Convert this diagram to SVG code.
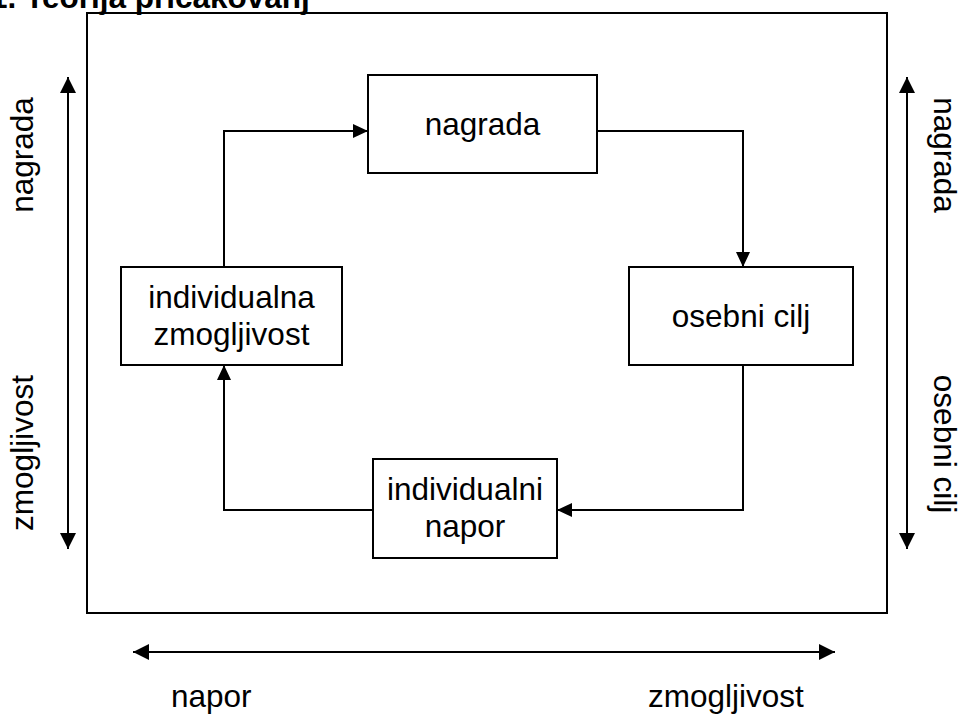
<svg xmlns="http://www.w3.org/2000/svg" width="966" height="715" viewBox="0 0 966 715">
  <style>
    .box { fill: #ffffff; stroke: #000000; stroke-width: 2; }
    .frame { fill: none; stroke: #000000; stroke-width: 2; }
    .link { fill: none; stroke: #000000; stroke-width: 2; marker-end: url(#head); }
    .axis { fill: none; stroke: #000000; stroke-width: 2; marker-start: url(#tip); marker-end: url(#tip); }
    .label { font-family: "Liberation Sans", Arial, sans-serif; font-size: 31.5px; fill: #000000; }
    .title { font-family: "Liberation Sans", Arial, sans-serif; font-size: 31.5px; font-weight: bold; fill: #000000; }
  </style>
  <defs>
    <marker id="head" markerUnits="userSpaceOnUse" markerWidth="16" markerHeight="16" refX="15" refY="7.5" orient="auto">
      <path d="M0,0.5 L15,7.5 L0,14.5 z" fill="#000000"/>
    </marker>
    <marker id="tip" markerUnits="userSpaceOnUse" markerWidth="17" markerHeight="17" refX="16" refY="8" orient="auto-start-reverse">
      <path d="M0,0 L16,8 L0,16 z" fill="#000000"/>
    </marker>
  </defs>

  <rect width="966" height="715" fill="#ffffff"/>

  <!-- heading, partly above the top edge -->
  <text class="title" x="-10" y="8">1. Teorija pričakovanj</text>

  <!-- outer frame -->
  <rect class="frame" x="87" y="13" width="800" height="600"/>

  <!-- axis arrows with their end labels -->
  <g id="axis-left">
    <line class="axis" x1="68" y1="77" x2="68" y2="549"/>
    <text class="label" text-anchor="middle" transform="translate(33,155) rotate(-90)">nagrada</text>
    <text class="label" text-anchor="middle" transform="translate(33,453) rotate(-90)">zmogljivost</text>
  </g>
  <g id="axis-right">
    <line class="axis" x1="907" y1="77" x2="907" y2="549"/>
    <text class="label" text-anchor="middle" transform="translate(934,155) rotate(90)">nagrada</text>
    <text class="label" text-anchor="middle" transform="translate(934,444) rotate(90)">osebni cilj</text>
  </g>
  <g id="axis-bottom">
    <line class="axis" x1="133" y1="652" x2="835" y2="652"/>
    <text class="label" x="171" y="707">napor</text>
    <text class="label" x="648" y="707">zmogljivost</text>
  </g>

  <!-- cycle connectors -->
  <g id="connectors">
    <path class="link" d="M224,267 L224,131 L368,131"/>
    <path class="link" d="M597,131 L743,131 L743,267"/>
    <path class="link" d="M743,365 L743,510 L557,510"/>
    <path class="link" d="M373,510 L224,510 L224,365"/>
  </g>

  <!-- nodes -->
  <g id="node-nagrada">
    <rect class="box" x="368" y="75" width="229" height="98"/>
    <text class="label" x="482.5" y="135" text-anchor="middle">nagrada</text>
  </g>
  <g id="node-osebni-cilj">
    <rect class="box" x="629" y="267" width="224" height="98"/>
    <text class="label" x="741" y="327" text-anchor="middle">osebni cilj</text>
  </g>
  <g id="node-individualni-napor">
    <rect class="box" x="373" y="459" width="184" height="99"/>
    <text class="label" x="465" y="500" text-anchor="middle">individualni</text>
    <text class="label" x="465" y="537" text-anchor="middle">napor</text>
  </g>
  <g id="node-individualna-zmogljivost">
    <rect class="box" x="121" y="267" width="221" height="98"/>
    <text class="label" x="231.5" y="308" text-anchor="middle">individualna</text>
    <text class="label" x="231.5" y="345" text-anchor="middle">zmogljivost</text>
  </g>
</svg>
